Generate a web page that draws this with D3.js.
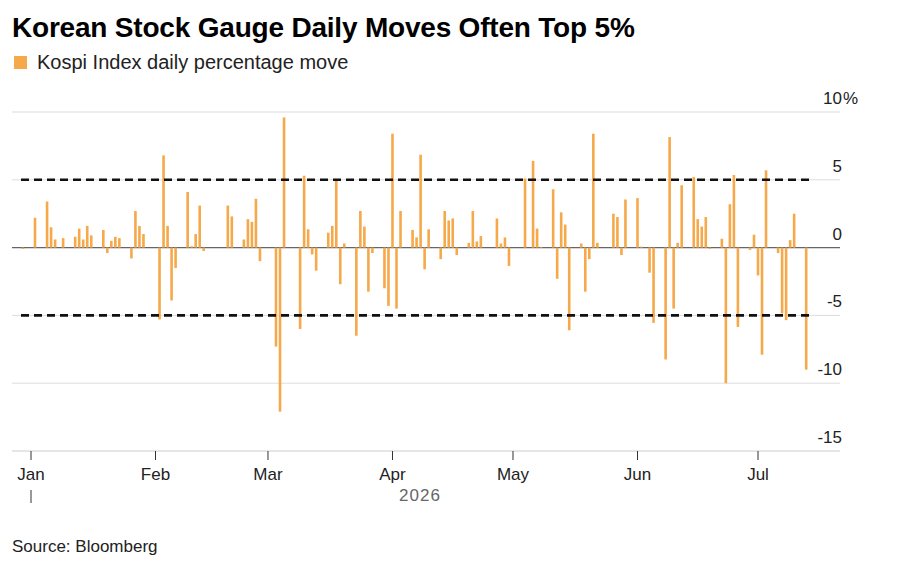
<!DOCTYPE html>
<html><head><meta charset="utf-8">
<script src="https://cdn.jsdelivr.net/npm/d3@7"></script>
<style>body{margin:0;background:#fff;font-family:"Liberation Sans",Arial,sans-serif}</style>
</head><body>
<svg id="chart" width="900" height="567"></svg>
<script>
var dates = ["2025-12-30","2026-01-02","2026-01-05","2026-01-06","2026-01-07","2026-01-09","2026-01-12","2026-01-13","2026-01-14","2026-01-15","2026-01-16","2026-01-19","2026-01-20","2026-01-21","2026-01-22","2026-01-23","2026-01-26","2026-01-27","2026-01-28","2026-01-29",
"2026-02-02","2026-02-03","2026-02-04","2026-02-05","2026-02-06","2026-02-09","2026-02-10","2026-02-11","2026-02-12","2026-02-13","2026-02-19","2026-02-20","2026-02-23","2026-02-24","2026-02-25","2026-02-26","2026-02-27",
"2026-03-03","2026-03-04","2026-03-05","2026-03-09","2026-03-10","2026-03-11","2026-03-12","2026-03-13","2026-03-16","2026-03-17","2026-03-18","2026-03-19","2026-03-20","2026-03-23","2026-03-24","2026-03-25","2026-03-26","2026-03-27","2026-03-30","2026-03-31",
"2026-04-01","2026-04-02","2026-04-03","2026-04-06","2026-04-07","2026-04-08","2026-04-09","2026-04-10","2026-04-13","2026-04-14","2026-04-15","2026-04-16","2026-04-17","2026-04-20","2026-04-21","2026-04-22","2026-04-23","2026-04-27","2026-04-28","2026-04-29","2026-04-30",
"2026-05-04","2026-05-06","2026-05-07","2026-05-08","2026-05-11","2026-05-12","2026-05-13","2026-05-14","2026-05-15","2026-05-18","2026-05-19","2026-05-20","2026-05-21","2026-05-22","2026-05-26","2026-05-27","2026-05-28","2026-05-29",
"2026-06-01","2026-06-02","2026-06-04","2026-06-05","2026-06-08","2026-06-09","2026-06-10","2026-06-11","2026-06-12","2026-06-15","2026-06-16","2026-06-17","2026-06-18","2026-06-19","2026-06-22","2026-06-23","2026-06-24","2026-06-25","2026-06-26","2026-06-29","2026-06-30",
"2026-07-01","2026-07-02","2026-07-03","2026-07-06","2026-07-07","2026-07-08","2026-07-09","2026-07-10","2026-07-13"];
var moves = [-0.1,2.2,3.4,1.5,0.6,0.7,0.8,1.4,0.6,1.6,0.9,1.3,-0.4,0.5,0.8,0.7,-0.8,2.7,1.6,1.0,
-5.3,6.8,1.6,-3.9,-1.5,4.1,0.1,1.0,3.1,-0.25,3.1,2.3,0.6,2.1,1.9,3.6,-1.0,
-7.3,-12.1,9.6,-6.0,5.3,1.35,-0.5,-1.7,1.1,1.6,5.0,-2.7,0.3,-6.5,2.7,1.55,-3.25,-0.4,-3.0,-4.3,
8.4,-4.5,2.7,1.3,0.75,6.85,-1.6,1.35,-0.85,2.7,2.0,2.15,-0.55,0.35,2.7,0.45,0.85,2.15,0.3,0.75,-1.35,
5.1,6.4,1.4,0.05,4.3,-2.3,2.6,1.7,-6.1,0.3,-3.25,-0.85,8.4,0.35,2.5,2.25,-0.55,3.55,
3.65,0.07,-1.85,-5.55,-8.25,8.15,-4.5,0.35,4.6,5.2,2.1,1.55,2.25,-0.1,0.65,-10.0,3.2,5.35,-5.85,-0.17,0.95,
-2.05,-7.9,5.7,-0.4,-4.85,-5.35,0.55,2.5,-9.0];
var yTicks = [10,5,0,-5,-10,-15];
var monthTicks = ["2026-01-01","2026-02-01","2026-03-01","2026-04-01","2026-05-01","2026-06-01","2026-07-01"];
var monthLabels = ["Jan","Feb","Mar","Apr","May","Jun","Jul"];
var thresholds = [5,-5];

var parse = d3.timeParse("%Y-%m-%d");
var svg = d3.select("#chart");
var x = d3.scaleTime().domain([parse("2026-01-01"), parse("2026-07-01")]).range([31, 758]);
var y = d3.scaleLinear().domain([-15, 10]).range([451, 112]);

svg.append("text").attr("x", 12).attr("y", 37).attr("font-size", 28).attr("font-weight", "bold")
  .attr("letter-spacing", -0.2).attr("fill", "#000").text("Korean Stock Gauge Daily Moves Often Top 5%");
svg.append("rect").attr("x", 14).attr("y", 56).attr("width", 13).attr("height", 13).attr("fill", "#f5a94a");
svg.append("text").attr("x", 37).attr("y", 69).attr("font-size", 20).attr("fill", "#222").text("Kospi Index daily percentage move");

// grid
svg.selectAll(".grid").data(yTicks.filter(function(d){ return d !== 0 && d !== -15; })).enter()
  .append("line").attr("x1", 12).attr("x2", 840).attr("y1", function(d){ return y(d); }).attr("y2", function(d){ return y(d); })
  .attr("stroke", "#ddd").attr("stroke-width", 1);
svg.append("line").attr("x1", 12).attr("x2", 840).attr("y1", y(-15)).attr("y2", y(-15)).attr("stroke", "#ccc");

svg.selectAll(".ylab").data(yTicks).enter().append("text")
  .attr("x", 842).attr("y", function(d){ return y(d) - 8; }).attr("text-anchor", "end")
  .attr("font-size", 17).attr("fill", "#222").text(function(d){ return d; });
svg.append("text").attr("x", 843).attr("y", y(10) - 8).attr("font-size", 17).attr("fill", "#222").text("%");

svg.append("line").attr("x1", 12).attr("x2", 840).attr("y1", y(0)).attr("y2", y(0)).attr("stroke", "#666").attr("stroke-width", 1.3);

svg.selectAll(".bar").data(dates).enter().append("rect")
  .attr("x", function(d){ return x(parse(d)) - 1.3; }).attr("width", 2.6)
  .attr("y", function(d, i){ return y(Math.max(0, moves[i])); })
  .attr("height", function(d, i){ return Math.abs(y(moves[i]) - y(0)); })
  .attr("fill", "#f5a94a");

svg.selectAll(".thr").data(thresholds).enter().append("line")
  .attr("x1", 21).attr("x2", 809).attr("y1", function(d){ return y(d); }).attr("y2", function(d){ return y(d); })
  .attr("stroke", "#111").attr("stroke-width", 2.6).attr("stroke-dasharray", "8,5");

svg.selectAll(".mt").data(monthTicks).enter().append("line")
  .attr("x1", function(d){ return x(parse(d)); }).attr("x2", function(d){ return x(parse(d)); })
  .attr("y1", 451).attr("y2", 460).attr("stroke", "#333");
svg.selectAll(".ml").data(monthLabels).enter().append("text")
  .attr("x", function(d, i){ return x(parse(monthTicks[i])); }).attr("y", 480).attr("text-anchor", "middle")
  .attr("font-size", 17).attr("fill", "#222").text(function(d){ return d; });
svg.append("line").attr("x1", 31).attr("x2", 31).attr("y1", 490).attr("y2", 503).attr("stroke", "#333");
svg.append("text").attr("x", 420).attr("y", 501).attr("text-anchor", "middle").attr("font-size", 17)
  .attr("fill", "#666").attr("letter-spacing", 1).text("2026");

svg.append("text").attr("x", 12).attr("y", 552).attr("font-size", 17).attr("fill", "#222").text("Source: Bloomberg");
</script>
</body></html>
